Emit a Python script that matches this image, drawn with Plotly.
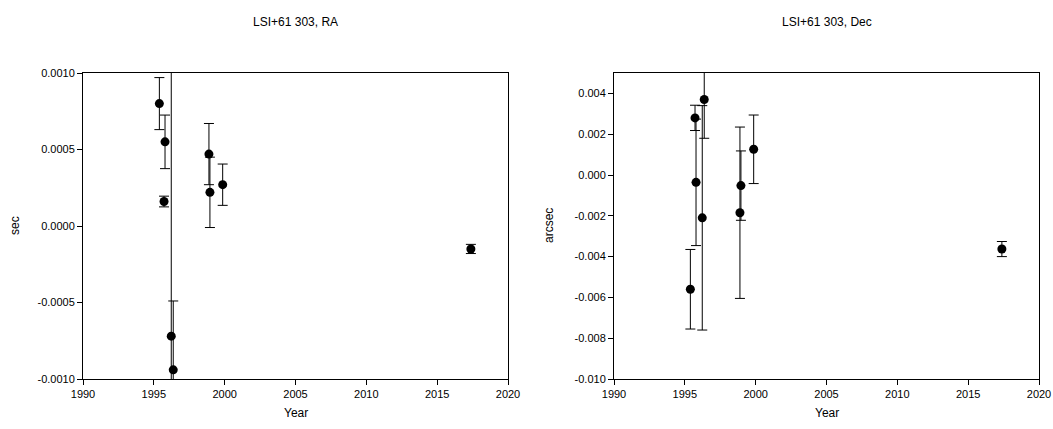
import plotly.graph_objects as go

W, H = 1053, 429

# Data
years = [1995.39, 1995.72, 1995.79, 1996.23, 1996.37, 1998.89, 1998.96, 1999.86, 2017.38]
ra = [0.00080, 0.00016, 0.00055, -0.00072, -0.00094, 0.00047, 0.00022, 0.00027, -0.00015]
ra_err = [0.00017, 0.000035, 0.000175, 0.0019, 0.00045, 0.0002, 0.00023, 0.000135, 0.00003]
dec = [-0.0056, 0.0028, -0.00036, -0.0021, 0.0037, -0.00185, -0.00052, 0.00126, -0.00363]
dec_err = [0.00195, 0.00062, 0.0031, 0.0055, 0.0019, 0.0042, 0.0017, 0.00168, 0.00037]

x_ticks = [1990, 1995, 2000, 2005, 2010, 2015, 2020]
ra_ticks = [0.0010, 0.0005, 0.0, -0.0005, -0.0010]
ra_ticktext = ["0.0010", "0.0005", "0.0000", "-0.0005", "-0.0010"]
dec_ticks = [0.004, 0.002, 0.0, -0.002, -0.004, -0.006, -0.008, -0.010]
dec_ticktext = ["0.004", "0.002", "0.000", "-0.002", "-0.004", "-0.006", "-0.008", "-0.010"]

FONT = "Liberation Sans, Arial, sans-serif"

def px_x(p):
    return p / W

def px_y(p):
    return 1 - p / H

fig = go.Figure()

marker = dict(color="black", size=9)
def err(arr):
    return dict(type="data", array=arr, visible=True, color="black", thickness=1, width=5)

fig.add_trace(go.Scatter(x=years, y=ra, mode="markers", marker=marker,
                         error_y=err(ra_err), xaxis="x", yaxis="y", showlegend=False))
fig.add_trace(go.Scatter(x=years, y=dec, mode="markers", marker=marker,
                         error_y=err(dec_err), xaxis="x2", yaxis="y2", showlegend=False))

axis_common = dict(showline=True, linecolor="black", linewidth=1, mirror=True,
                   ticks="outside", ticklen=5, tickcolor="black", tickwidth=1,
                   showgrid=False, zeroline=False, automargin=False,
                   tickfont=dict(family=FONT, size=11, color="black"))

ydom = [px_y(379), px_y(73)]
fig.update_layout(
    width=W, height=H,
    margin=dict(l=0, r=0, t=0, b=0, pad=0, autoexpand=False),
    paper_bgcolor="white", plot_bgcolor="white",
    xaxis=dict(domain=[px_x(83), px_x(508)], range=[1990, 2020], tickvals=x_ticks,
               anchor="y", **axis_common),
    yaxis=dict(domain=ydom, range=[-0.0010, 0.0010], tickvals=ra_ticks, ticktext=ra_ticktext,
               anchor="x", **axis_common),
    xaxis2=dict(domain=[px_x(614), px_x(1039)], range=[1990, 2020], tickvals=x_ticks,
                anchor="y2", **axis_common),
    yaxis2=dict(domain=ydom, range=[-0.010, 0.005], tickvals=dec_ticks, ticktext=dec_ticktext,
                anchor="x2", **axis_common),
)

ann_font = dict(family=FONT, size=12, color="black")
annotations = [
    dict(text="LSI+61 303, RA", x=px_x(295.5), y=px_y(22)),
    dict(text="LSI+61 303, Dec", x=px_x(826.5), y=px_y(22)),
    dict(text="Year", x=px_x(295.5), y=px_y(413)),
    dict(text="Year", x=px_x(826.5), y=px_y(413)),
    dict(text="sec", x=px_x(15), y=px_y(226), textangle=-90),
    dict(text="arcsec", x=px_x(549), y=px_y(226), textangle=-90),
]
for a in annotations:
    fig.add_annotation(xref="paper", yref="paper", showarrow=False,
                       xanchor="center", yanchor="middle", font=ann_font, **a)

fig.write_html("out.html")
